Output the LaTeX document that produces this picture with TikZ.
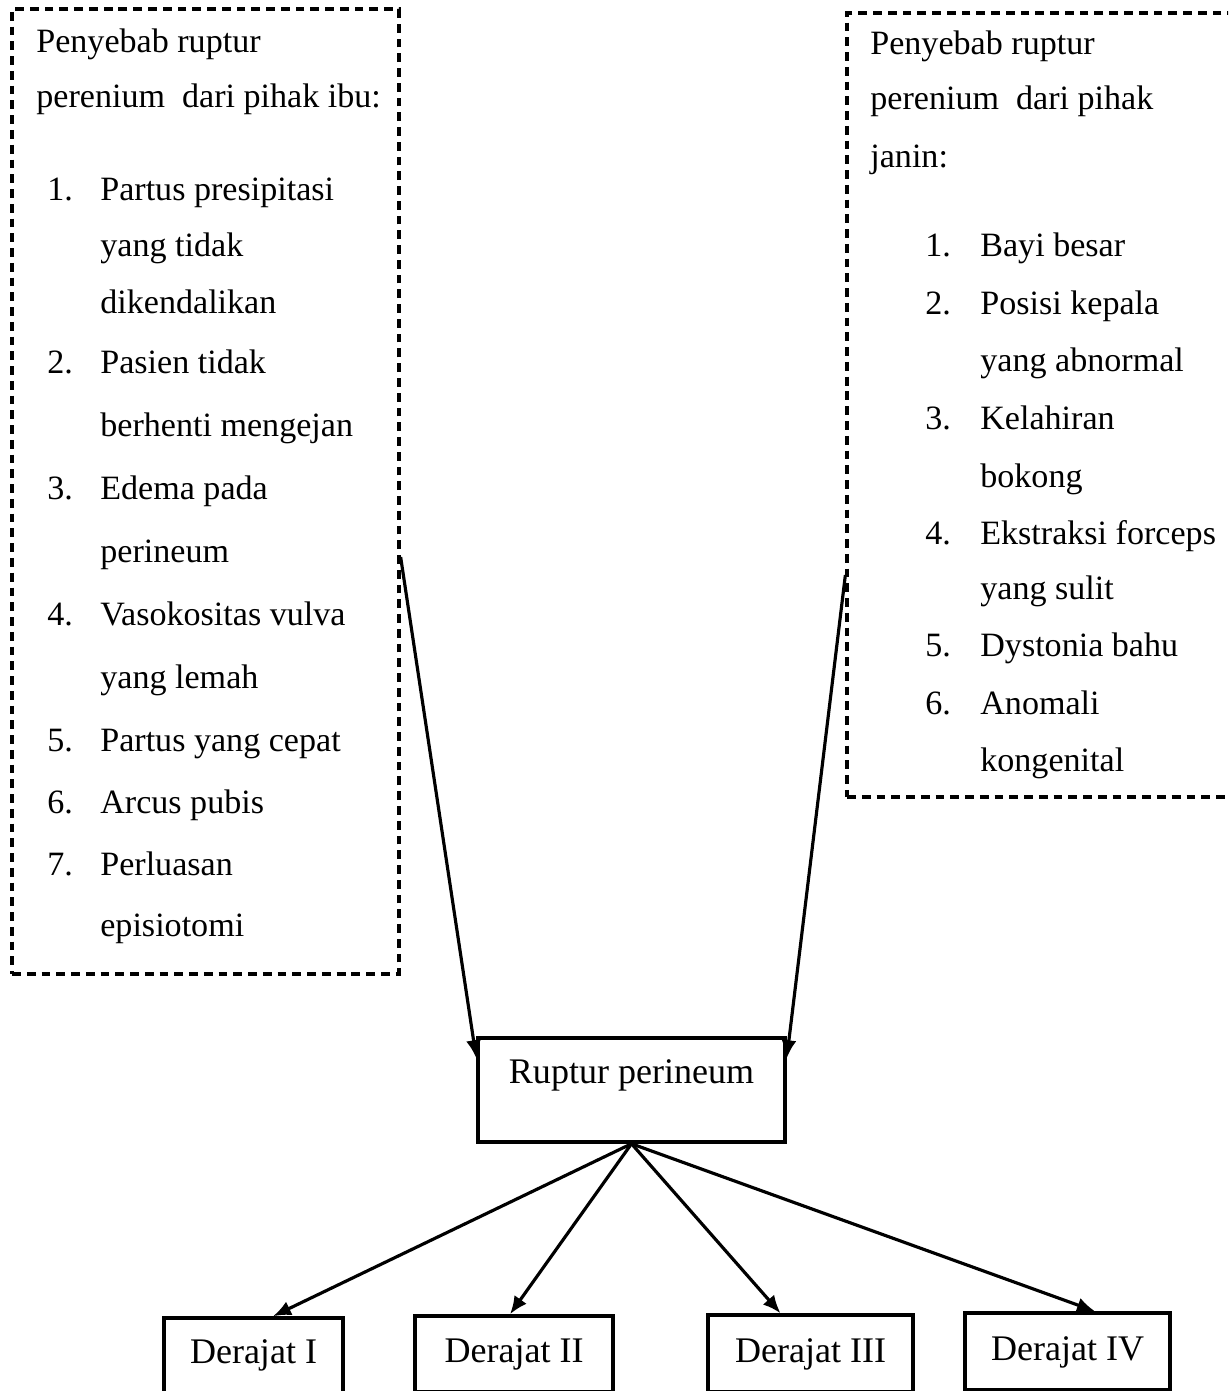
\documentclass[tikz,border=0pt]{standalone}
\usepackage{fontspec}
\setmainfont{Liberation Serif}
\usetikzlibrary{arrows.meta}

\begin{document}
\begin{tikzpicture}[x=0.02cm,y=-0.02cm,
    causebox/.style={draw,line width=1.9pt,dash pattern=on 5pt off 3.4pt,inner sep=0pt},
    listtext/.style={anchor=base west,inner sep=0pt,font=\fontsize{19.4pt}{23pt}\selectfont},
    solidbox/.style={draw,line width=2pt,anchor=base,inner xsep=0pt,inner ysep=0pt,
        font=\fontsize{20.5pt}{24pt}\selectfont},
    link/.style={line width=1.8pt,-{Latex[length=0.36cm,width=0.3cm]}}]

\useasboundingbox (0,0) rectangle (1228,1391);
\clip (0,0) rectangle (1228,1391);

% dashed cause boxes
\node[causebox,minimum width=7.74cm,minimum height=19.3cm] (ibu) at (205.5,491.5) {};
\node[causebox,minimum width=7.86cm,minimum height=15.68cm] (janin) at (1043.5,405) {};

\node[listtext] (ibuhead1) at (36,53) {Penyebab ruptur};
\node[listtext] (ibuhead2) at (36,108) {perenium\ \ dari pihak ibu:};
\foreach \y/\num/\txt [count=\i] in {
    201/1./Partus presipitasi,
    257//yang tidak,
    314//dikendalikan,
    374/2./Pasien tidak,
    437//berhenti mengejan,
    500/3./Edema pada,
    562//perineum,
    625/4./Vasokositas vulva,
    688//yang lemah,
    751/5./Partus yang cepat,
    813/6./Arcus pubis,
    875/7./Perluasan,
    936//episiotomi
}{
    \node[listtext] (ibuline\i) at (47,\y) {\makebox[1.06cm][l]{\num}\txt};
}

\node[listtext] (janinhead1) at (870,55) {Penyebab ruptur};
\node[listtext] (janinhead2) at (870,110) {perenium\ \ dari pihak};
\node[listtext] (janinhead3) at (870,168) {janin:};
\foreach \y/\num/\txt [count=\i] in {
    257/1./Bayi besar,
    315/2./Posisi kepala,
    372//yang abnormal,
    430/3./Kelahiran,
    487//bokong,
    544/4./Ekstraksi forceps,
    599//yang sulit,
    656/5./Dystonia bahu,
    714/6./Anomali,
    771//kongenital
}{
    \node[listtext] (janinline\i) at (925,\y) {\makebox[1.1cm][l]{\num}\txt};
}

% ruptur and degrees
\node[solidbox,minimum width=6.14cm,text height=0.9cm,text depth=1.18cm] (rup) at (631.5,1083) {Ruptur perineum};

\node[solidbox,minimum width=3.58cm,text height=0.9cm,text depth=0.6cm] (d1) at (253.5,1363) {Derajat I};
\node[solidbox,minimum width=3.96cm,text height=0.92cm,text depth=0.6cm] (d2) at (514,1362) {Derajat II};
\node[solidbox,minimum width=4.1cm,text height=0.94cm,text depth=0.6cm] (d3) at (810.5,1362) {Derajat III};
\node[solidbox,minimum width=4.1cm,text height=0.94cm,text depth=0.6cm] (d4) at (1067.5,1360) {Derajat IV};

\draw[link] ([yshift=-1.31cm]ibu.east) -- ([yshift=-0.44cm]rup.north west);
\draw[link] ([yshift=-3.4cm]janin.west) -- ([yshift=-0.44cm]rup.north east);

\foreach \d/\dx in {d1/0.39cm,d2/-0.08cm,d3/-0.6cm,d4/0.55cm}
    \draw[link] (rup.south) -- ([xshift=\dx]\d.north);

\end{tikzpicture}
\end{document}
